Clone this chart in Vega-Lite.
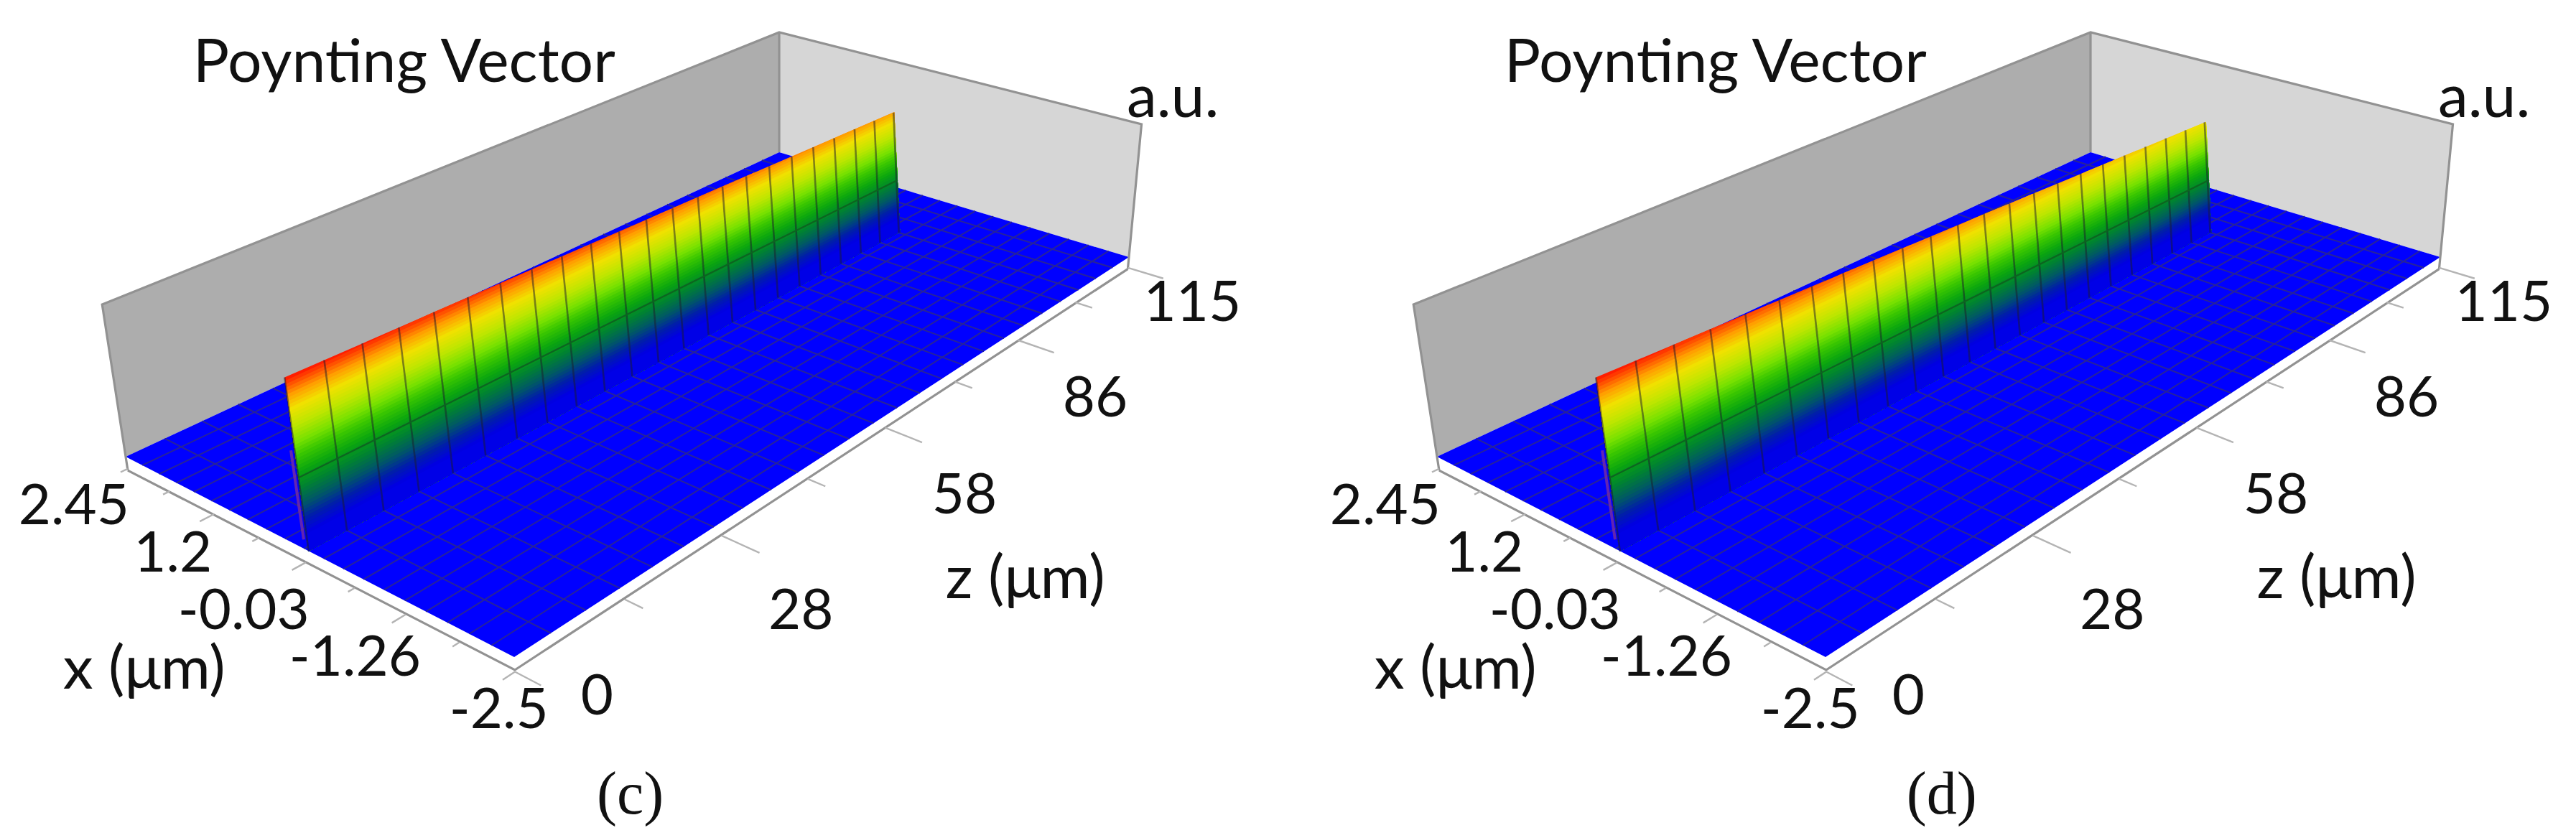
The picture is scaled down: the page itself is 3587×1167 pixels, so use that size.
{"$schema":"https://vega.github.io/schema/vega-lite/v6.json","autosize":{"type":"fit","contains":"padding"},"width":3587,"height":1167,"padding":0,"background":"white","config":{"view":{"stroke":null},"style":{"cell":{"stroke":null}}},
"data":{"values":[
{"k":"wallL","i":0,"x":2.45,"z":0,"s":0},{"k":"wallL","i":1,"x":2.45,"z":0,"s":1},{"k":"wallL","i":2,"x":2.45,"z":115,"s":1},{"k":"wallL","i":3,"x":2.45,"z":115,"s":0},
{"k":"wallR","i":0,"x":2.45,"z":115,"s":0},{"k":"wallR","i":1,"x":2.45,"z":115,"s":1},{"k":"wallR","i":2,"x":-2.5,"z":115,"s":1},{"k":"wallR","i":3,"x":-2.5,"z":115,"s":0},
{"k":"floor","i":0,"x":2.45,"z":0,"s":0},{"k":"floor","i":1,"x":-2.5,"z":0,"s":0},{"k":"floor","i":2,"x":-2.5,"z":115,"s":0},{"k":"floor","i":3,"x":2.45,"z":115,"s":0},
{"k":"grid","g":1,"i":0,"z":4.6,"x":2.45},{"k":"grid","g":1,"i":1,"z":4.6,"x":-2.5},{"k":"grid","g":2,"i":0,"z":9.2,"x":2.45},{"k":"grid","g":2,"i":1,"z":9.2,"x":-2.5},{"k":"grid","g":3,"i":0,"z":13.8,"x":2.45},{"k":"grid","g":3,"i":1,"z":13.8,"x":-2.5},{"k":"grid","g":4,"i":0,"z":18.4,"x":2.45},{"k":"grid","g":4,"i":1,"z":18.4,"x":-2.5},{"k":"grid","g":5,"i":0,"z":23,"x":2.45},{"k":"grid","g":5,"i":1,"z":23,"x":-2.5},{"k":"grid","g":6,"i":0,"z":27.6,"x":2.45},{"k":"grid","g":6,"i":1,"z":27.6,"x":-2.5},{"k":"grid","g":7,"i":0,"z":32.2,"x":2.45},{"k":"grid","g":7,"i":1,"z":32.2,"x":-2.5},{"k":"grid","g":8,"i":0,"z":36.8,"x":2.45},{"k":"grid","g":8,"i":1,"z":36.8,"x":-2.5},{"k":"grid","g":9,"i":0,"z":41.4,"x":2.45},{"k":"grid","g":9,"i":1,"z":41.4,"x":-2.5},{"k":"grid","g":10,"i":0,"z":46,"x":2.45},{"k":"grid","g":10,"i":1,"z":46,"x":-2.5},{"k":"grid","g":11,"i":0,"z":50.6,"x":2.45},{"k":"grid","g":11,"i":1,"z":50.6,"x":-2.5},{"k":"grid","g":12,"i":0,"z":55.2,"x":2.45},{"k":"grid","g":12,"i":1,"z":55.2,"x":-2.5},{"k":"grid","g":13,"i":0,"z":59.8,"x":2.45},{"k":"grid","g":13,"i":1,"z":59.8,"x":-2.5},{"k":"grid","g":14,"i":0,"z":64.4,"x":2.45},{"k":"grid","g":14,"i":1,"z":64.4,"x":-2.5},{"k":"grid","g":15,"i":0,"z":69,"x":2.45},{"k":"grid","g":15,"i":1,"z":69,"x":-2.5},{"k":"grid","g":16,"i":0,"z":73.6,"x":2.45},{"k":"grid","g":16,"i":1,"z":73.6,"x":-2.5},{"k":"grid","g":17,"i":0,"z":78.2,"x":2.45},{"k":"grid","g":17,"i":1,"z":78.2,"x":-2.5},{"k":"grid","g":18,"i":0,"z":82.8,"x":2.45},{"k":"grid","g":18,"i":1,"z":82.8,"x":-2.5},{"k":"grid","g":19,"i":0,"z":87.4,"x":2.45},{"k":"grid","g":19,"i":1,"z":87.4,"x":-2.5},{"k":"grid","g":20,"i":0,"z":92,"x":2.45},{"k":"grid","g":20,"i":1,"z":92,"x":-2.5},{"k":"grid","g":21,"i":0,"z":96.6,"x":2.45},{"k":"grid","g":21,"i":1,"z":96.6,"x":-2.5},{"k":"grid","g":22,"i":0,"z":101.2,"x":2.45},{"k":"grid","g":22,"i":1,"z":101.2,"x":-2.5},{"k":"grid","g":23,"i":0,"z":105.8,"x":2.45},{"k":"grid","g":23,"i":1,"z":105.8,"x":-2.5},{"k":"grid","g":24,"i":0,"z":110.4,"x":2.45},{"k":"grid","g":24,"i":1,"z":110.4,"x":-2.5},
{"k":"grid","g":31,"i":0,"x":2.2025,"z":0},{"k":"grid","g":31,"i":1,"x":2.2025,"z":115},{"k":"grid","g":32,"i":0,"x":1.955,"z":0},{"k":"grid","g":32,"i":1,"x":1.955,"z":115},{"k":"grid","g":33,"i":0,"x":1.7075,"z":0},{"k":"grid","g":33,"i":1,"x":1.7075,"z":115},{"k":"grid","g":34,"i":0,"x":1.46,"z":0},{"k":"grid","g":34,"i":1,"x":1.46,"z":115},{"k":"grid","g":35,"i":0,"x":1.2125,"z":0},{"k":"grid","g":35,"i":1,"x":1.2125,"z":115},{"k":"grid","g":36,"i":0,"x":0.965,"z":0},{"k":"grid","g":36,"i":1,"x":0.965,"z":115},{"k":"grid","g":37,"i":0,"x":0.7175,"z":0},{"k":"grid","g":37,"i":1,"x":0.7175,"z":115},{"k":"grid","g":38,"i":0,"x":0.47,"z":0},{"k":"grid","g":38,"i":1,"x":0.47,"z":115},{"k":"grid","g":39,"i":0,"x":0.2225,"z":0},{"k":"grid","g":39,"i":1,"x":0.2225,"z":115},{"k":"grid","g":40,"i":0,"x":-0.025,"z":0},{"k":"grid","g":40,"i":1,"x":-0.025,"z":115},{"k":"grid","g":41,"i":0,"x":-0.2725,"z":0},{"k":"grid","g":41,"i":1,"x":-0.2725,"z":115},{"k":"grid","g":42,"i":0,"x":-0.52,"z":0},{"k":"grid","g":42,"i":1,"x":-0.52,"z":115},{"k":"grid","g":43,"i":0,"x":-0.7675,"z":0},{"k":"grid","g":43,"i":1,"x":-0.7675,"z":115},{"k":"grid","g":44,"i":0,"x":-1.015,"z":0},{"k":"grid","g":44,"i":1,"x":-1.015,"z":115},{"k":"grid","g":45,"i":0,"x":-1.2625,"z":0},{"k":"grid","g":45,"i":1,"x":-1.2625,"z":115},{"k":"grid","g":46,"i":0,"x":-1.51,"z":0},{"k":"grid","g":46,"i":1,"x":-1.51,"z":115},{"k":"grid","g":47,"i":0,"x":-1.7575,"z":0},{"k":"grid","g":47,"i":1,"x":-1.7575,"z":115},{"k":"grid","g":48,"i":0,"x":-2.005,"z":0},{"k":"grid","g":48,"i":1,"x":-2.005,"z":115},{"k":"grid","g":49,"i":0,"x":-2.2525,"z":0},{"k":"grid","g":49,"i":1,"x":-2.2525,"z":115},
{"k":"band","panel":"c","level":1.02,"i":0,"z":0,"x":0.002,"s":1.02},{"k":"band","panel":"c","level":1.02,"i":1,"z":35.3,"x":-0.015,"s":0.98},{"k":"band","panel":"c","level":1.02,"i":2,"z":35.3,"x":-0.116,"s":0},{"k":"band","panel":"c","level":1.02,"i":3,"z":0,"x":-0.082,"s":0},
{"k":"band","panel":"c","level":1.00,"i":0,"z":0,"x":0,"s":1},{"k":"band","panel":"c","level":1.00,"i":1,"z":17.65,"x":-0.006,"s":1},{"k":"band","panel":"c","level":1.00,"i":2,"z":35.3,"x":-0.015,"s":0.98},{"k":"band","panel":"c","level":1.00,"i":3,"z":35.3,"x":-0.116,"s":0},{"k":"band","panel":"c","level":1.00,"i":4,"z":0,"x":-0.082,"s":0},
{"k":"band","panel":"c","level":0.98,"i":0,"z":0,"x":-0.002,"s":0.98},{"k":"band","panel":"c","level":0.98,"i":1,"z":35.3,"x":-0.015,"s":0.98},{"k":"band","panel":"c","level":0.98,"i":2,"z":70.6,"x":-0.033,"s":0.94},{"k":"band","panel":"c","level":0.98,"i":3,"z":70.6,"x":-0.151,"s":0},{"k":"band","panel":"c","level":0.98,"i":4,"z":0,"x":-0.082,"s":0},
{"k":"band","panel":"c","level":0.96,"i":0,"z":0,"x":-0.003,"s":0.96},{"k":"band","panel":"c","level":0.96,"i":1,"z":52.95,"x":-0.024,"s":0.96},{"k":"band","panel":"c","level":0.96,"i":2,"z":70.6,"x":-0.033,"s":0.94},{"k":"band","panel":"c","level":0.96,"i":3,"z":70.6,"x":-0.151,"s":0},{"k":"band","panel":"c","level":0.96,"i":4,"z":0,"x":-0.082,"s":0},
{"k":"band","panel":"c","level":0.94,"i":0,"z":0,"x":-0.005,"s":0.94},{"k":"band","panel":"c","level":0.94,"i":1,"z":70.6,"x":-0.033,"s":0.94},{"k":"band","panel":"c","level":0.94,"i":2,"z":101.5,"x":-0.051,"s":0.905},{"k":"band","panel":"c","level":0.94,"i":3,"z":101.5,"x":-0.181,"s":0},{"k":"band","panel":"c","level":0.94,"i":4,"z":0,"x":-0.082,"s":0},
{"k":"band","panel":"c","level":0.92,"i":0,"z":0,"x":-0.007,"s":0.92},{"k":"band","panel":"c","level":0.92,"i":1,"z":88.3,"x":-0.043,"s":0.92},{"k":"band","panel":"c","level":0.92,"i":2,"z":101.5,"x":-0.051,"s":0.905},{"k":"band","panel":"c","level":0.92,"i":3,"z":101.5,"x":-0.181,"s":0},{"k":"band","panel":"c","level":0.92,"i":4,"z":0,"x":-0.082,"s":0},
{"k":"band","panel":"c","level":0.90,"i":0,"z":0,"x":-0.008,"s":0.9},{"k":"band","panel":"c","level":0.90,"i":1,"z":101.5,"x":-0.051,"s":0.9},{"k":"band","panel":"c","level":0.90,"i":2,"z":101.5,"x":-0.181,"s":0},{"k":"band","panel":"c","level":0.90,"i":3,"z":0,"x":-0.082,"s":0},
{"k":"band","panel":"c","level":0.88,"i":0,"z":0,"x":-0.01,"s":0.88},{"k":"band","panel":"c","level":0.88,"i":1,"z":101.5,"x":-0.054,"s":0.88},{"k":"band","panel":"c","level":0.88,"i":2,"z":101.5,"x":-0.181,"s":0},{"k":"band","panel":"c","level":0.88,"i":3,"z":0,"x":-0.082,"s":0},
{"k":"band","panel":"c","level":0.86,"i":0,"z":0,"x":-0.012,"s":0.86},{"k":"band","panel":"c","level":0.86,"i":1,"z":101.5,"x":-0.057,"s":0.86},{"k":"band","panel":"c","level":0.86,"i":2,"z":101.5,"x":-0.181,"s":0},{"k":"band","panel":"c","level":0.86,"i":3,"z":0,"x":-0.082,"s":0},
{"k":"band","panel":"c","level":0.84,"i":0,"z":0,"x":-0.013,"s":0.84},{"k":"band","panel":"c","level":0.84,"i":1,"z":101.5,"x":-0.06,"s":0.84},{"k":"band","panel":"c","level":0.84,"i":2,"z":101.5,"x":-0.181,"s":0},{"k":"band","panel":"c","level":0.84,"i":3,"z":0,"x":-0.082,"s":0},
{"k":"band","panel":"d","level":1.02,"i":0,"z":0,"x":0.002,"s":1.02},{"k":"band","panel":"d","level":1.02,"i":1,"z":21.4,"x":-0.01,"s":0.98},{"k":"band","panel":"d","level":1.02,"i":2,"z":21.4,"x":-0.103,"s":0},{"k":"band","panel":"d","level":1.02,"i":3,"z":0,"x":-0.082,"s":0},
{"k":"band","panel":"d","level":1.00,"i":0,"z":0,"x":0,"s":1},{"k":"band","panel":"d","level":1.00,"i":1,"z":10.7,"x":-0.004,"s":1},{"k":"band","panel":"d","level":1.00,"i":2,"z":21.4,"x":-0.01,"s":0.98},{"k":"band","panel":"d","level":1.00,"i":3,"z":21.4,"x":-0.103,"s":0},{"k":"band","panel":"d","level":1.00,"i":4,"z":0,"x":-0.082,"s":0},
{"k":"band","panel":"d","level":0.98,"i":0,"z":0,"x":-0.002,"s":0.98},{"k":"band","panel":"d","level":0.98,"i":1,"z":21.4,"x":-0.01,"s":0.98},{"k":"band","panel":"d","level":0.98,"i":2,"z":42.7,"x":-0.022,"s":0.94},{"k":"band","panel":"d","level":0.98,"i":3,"z":42.7,"x":-0.124,"s":0},{"k":"band","panel":"d","level":0.98,"i":4,"z":0,"x":-0.082,"s":0},
{"k":"band","panel":"d","level":0.96,"i":0,"z":0,"x":-0.003,"s":0.96},{"k":"band","panel":"d","level":0.96,"i":1,"z":32.1,"x":-0.016,"s":0.96},{"k":"band","panel":"d","level":0.96,"i":2,"z":42.7,"x":-0.022,"s":0.94},{"k":"band","panel":"d","level":0.96,"i":3,"z":42.7,"x":-0.124,"s":0},{"k":"band","panel":"d","level":0.96,"i":4,"z":0,"x":-0.082,"s":0},
{"k":"band","panel":"d","level":0.94,"i":0,"z":0,"x":-0.005,"s":0.94},{"k":"band","panel":"d","level":0.94,"i":1,"z":42.7,"x":-0.022,"s":0.94},{"k":"band","panel":"d","level":0.94,"i":2,"z":64.1,"x":-0.035,"s":0.9},{"k":"band","panel":"d","level":0.94,"i":3,"z":64.1,"x":-0.145,"s":0},{"k":"band","panel":"d","level":0.94,"i":4,"z":0,"x":-0.082,"s":0},
{"k":"band","panel":"d","level":0.92,"i":0,"z":0,"x":-0.007,"s":0.92},{"k":"band","panel":"d","level":0.92,"i":1,"z":53.5,"x":-0.029,"s":0.92},{"k":"band","panel":"d","level":0.92,"i":2,"z":64.1,"x":-0.035,"s":0.9},{"k":"band","panel":"d","level":0.92,"i":3,"z":64.1,"x":-0.145,"s":0},{"k":"band","panel":"d","level":0.92,"i":4,"z":0,"x":-0.082,"s":0},
{"k":"band","panel":"d","level":0.90,"i":0,"z":0,"x":-0.008,"s":0.9},{"k":"band","panel":"d","level":0.90,"i":1,"z":64.1,"x":-0.035,"s":0.9},{"k":"band","panel":"d","level":0.90,"i":2,"z":85.5,"x":-0.05,"s":0.86},{"k":"band","panel":"d","level":0.90,"i":3,"z":85.5,"x":-0.165,"s":0},{"k":"band","panel":"d","level":0.90,"i":4,"z":0,"x":-0.082,"s":0},
{"k":"band","panel":"d","level":0.88,"i":0,"z":0,"x":-0.01,"s":0.88},{"k":"band","panel":"d","level":0.88,"i":1,"z":74.9,"x":-0.043,"s":0.88},{"k":"band","panel":"d","level":0.88,"i":2,"z":85.5,"x":-0.05,"s":0.86},{"k":"band","panel":"d","level":0.88,"i":3,"z":85.5,"x":-0.165,"s":0},{"k":"band","panel":"d","level":0.88,"i":4,"z":0,"x":-0.082,"s":0},
{"k":"band","panel":"d","level":0.86,"i":0,"z":0,"x":-0.012,"s":0.86},{"k":"band","panel":"d","level":0.86,"i":1,"z":85.5,"x":-0.05,"s":0.86},{"k":"band","panel":"d","level":0.86,"i":2,"z":101.5,"x":-0.061,"s":0.83},{"k":"band","panel":"d","level":0.86,"i":3,"z":101.5,"x":-0.181,"s":0},{"k":"band","panel":"d","level":0.86,"i":4,"z":0,"x":-0.082,"s":0},
{"k":"band","panel":"d","level":0.84,"i":0,"z":0,"x":-0.013,"s":0.84},{"k":"band","panel":"d","level":0.84,"i":1,"z":96.3,"x":-0.058,"s":0.84},{"k":"band","panel":"d","level":0.84,"i":2,"z":101.5,"x":-0.061,"s":0.83},{"k":"band","panel":"d","level":0.84,"i":3,"z":101.5,"x":-0.181,"s":0},{"k":"band","panel":"d","level":0.84,"i":4,"z":0,"x":-0.082,"s":0},
{"k":"band","level":0.82,"i":0,"z":0,"x":-0.015,"s":0.82},{"k":"band","level":0.82,"i":1,"z":101.5,"x":-0.063,"s":0.82},{"k":"band","level":0.82,"i":2,"z":101.5,"x":-0.181,"s":0},{"k":"band","level":0.82,"i":3,"z":0,"x":-0.082,"s":0},
{"k":"band","level":0.80,"i":0,"z":0,"x":-0.016,"s":0.8},{"k":"band","level":0.80,"i":1,"z":101.5,"x":-0.066,"s":0.8},{"k":"band","level":0.80,"i":2,"z":101.5,"x":-0.181,"s":0},{"k":"band","level":0.80,"i":3,"z":0,"x":-0.082,"s":0},
{"k":"band","level":0.78,"i":0,"z":0,"x":-0.018,"s":0.78},{"k":"band","level":0.78,"i":1,"z":101.5,"x":-0.069,"s":0.78},{"k":"band","level":0.78,"i":2,"z":101.5,"x":-0.181,"s":0},{"k":"band","level":0.78,"i":3,"z":0,"x":-0.082,"s":0},
{"k":"band","level":0.76,"i":0,"z":0,"x":-0.02,"s":0.76},{"k":"band","level":0.76,"i":1,"z":101.5,"x":-0.072,"s":0.76},{"k":"band","level":0.76,"i":2,"z":101.5,"x":-0.181,"s":0},{"k":"band","level":0.76,"i":3,"z":0,"x":-0.082,"s":0},
{"k":"band","level":0.74,"i":0,"z":0,"x":-0.021,"s":0.74},{"k":"band","level":0.74,"i":1,"z":101.5,"x":-0.074,"s":0.74},{"k":"band","level":0.74,"i":2,"z":101.5,"x":-0.181,"s":0},{"k":"band","level":0.74,"i":3,"z":0,"x":-0.082,"s":0},
{"k":"band","level":0.72,"i":0,"z":0,"x":-0.023,"s":0.72},{"k":"band","level":0.72,"i":1,"z":101.5,"x":-0.077,"s":0.72},{"k":"band","level":0.72,"i":2,"z":101.5,"x":-0.181,"s":0},{"k":"band","level":0.72,"i":3,"z":0,"x":-0.082,"s":0},
{"k":"band","level":0.70,"i":0,"z":0,"x":-0.025,"s":0.7},{"k":"band","level":0.70,"i":1,"z":101.5,"x":-0.08,"s":0.7},{"k":"band","level":0.70,"i":2,"z":101.5,"x":-0.181,"s":0},{"k":"band","level":0.70,"i":3,"z":0,"x":-0.082,"s":0},
{"k":"band","level":0.68,"i":0,"z":0,"x":-0.026,"s":0.68},{"k":"band","level":0.68,"i":1,"z":101.5,"x":-0.083,"s":0.68},{"k":"band","level":0.68,"i":2,"z":101.5,"x":-0.181,"s":0},{"k":"band","level":0.68,"i":3,"z":0,"x":-0.082,"s":0},
{"k":"band","level":0.66,"i":0,"z":0,"x":-0.028,"s":0.66},{"k":"band","level":0.66,"i":1,"z":101.5,"x":-0.086,"s":0.66},{"k":"band","level":0.66,"i":2,"z":101.5,"x":-0.181,"s":0},{"k":"band","level":0.66,"i":3,"z":0,"x":-0.082,"s":0},
{"k":"band","level":0.64,"i":0,"z":0,"x":-0.03,"s":0.64},{"k":"band","level":0.64,"i":1,"z":101.5,"x":-0.089,"s":0.64},{"k":"band","level":0.64,"i":2,"z":101.5,"x":-0.181,"s":0},{"k":"band","level":0.64,"i":3,"z":0,"x":-0.082,"s":0},
{"k":"band","level":0.62,"i":0,"z":0,"x":-0.031,"s":0.62},{"k":"band","level":0.62,"i":1,"z":101.5,"x":-0.092,"s":0.62},{"k":"band","level":0.62,"i":2,"z":101.5,"x":-0.181,"s":0},{"k":"band","level":0.62,"i":3,"z":0,"x":-0.082,"s":0},
{"k":"band","level":0.60,"i":0,"z":0,"x":-0.033,"s":0.6},{"k":"band","level":0.60,"i":1,"z":101.5,"x":-0.095,"s":0.6},{"k":"band","level":0.60,"i":2,"z":101.5,"x":-0.181,"s":0},{"k":"band","level":0.60,"i":3,"z":0,"x":-0.082,"s":0},
{"k":"band","level":0.58,"i":0,"z":0,"x":-0.034,"s":0.58},{"k":"band","level":0.58,"i":1,"z":101.5,"x":-0.098,"s":0.58},{"k":"band","level":0.58,"i":2,"z":101.5,"x":-0.181,"s":0},{"k":"band","level":0.58,"i":3,"z":0,"x":-0.082,"s":0},
{"k":"band","level":0.56,"i":0,"z":0,"x":-0.036,"s":0.56},{"k":"band","level":0.56,"i":1,"z":101.5,"x":-0.1,"s":0.56},{"k":"band","level":0.56,"i":2,"z":101.5,"x":-0.181,"s":0},{"k":"band","level":0.56,"i":3,"z":0,"x":-0.082,"s":0},
{"k":"band","level":0.54,"i":0,"z":0,"x":-0.038,"s":0.54},{"k":"band","level":0.54,"i":1,"z":101.5,"x":-0.103,"s":0.54},{"k":"band","level":0.54,"i":2,"z":101.5,"x":-0.181,"s":0},{"k":"band","level":0.54,"i":3,"z":0,"x":-0.082,"s":0},
{"k":"band","level":0.52,"i":0,"z":0,"x":-0.039,"s":0.52},{"k":"band","level":0.52,"i":1,"z":101.5,"x":-0.106,"s":0.52},{"k":"band","level":0.52,"i":2,"z":101.5,"x":-0.181,"s":0},{"k":"band","level":0.52,"i":3,"z":0,"x":-0.082,"s":0},
{"k":"band","level":0.50,"i":0,"z":0,"x":-0.041,"s":0.5},{"k":"band","level":0.50,"i":1,"z":101.5,"x":-0.109,"s":0.5},{"k":"band","level":0.50,"i":2,"z":101.5,"x":-0.181,"s":0},{"k":"band","level":0.50,"i":3,"z":0,"x":-0.082,"s":0},
{"k":"band","level":0.48,"i":0,"z":0,"x":-0.043,"s":0.48},{"k":"band","level":0.48,"i":1,"z":101.5,"x":-0.112,"s":0.48},{"k":"band","level":0.48,"i":2,"z":101.5,"x":-0.181,"s":0},{"k":"band","level":0.48,"i":3,"z":0,"x":-0.082,"s":0},
{"k":"band","level":0.46,"i":0,"z":0,"x":-0.044,"s":0.46},{"k":"band","level":0.46,"i":1,"z":101.5,"x":-0.115,"s":0.46},{"k":"band","level":0.46,"i":2,"z":101.5,"x":-0.181,"s":0},{"k":"band","level":0.46,"i":3,"z":0,"x":-0.082,"s":0},
{"k":"band","level":0.44,"i":0,"z":0,"x":-0.046,"s":0.44},{"k":"band","level":0.44,"i":1,"z":101.5,"x":-0.118,"s":0.44},{"k":"band","level":0.44,"i":2,"z":101.5,"x":-0.181,"s":0},{"k":"band","level":0.44,"i":3,"z":0,"x":-0.082,"s":0},
{"k":"band","level":0.42,"i":0,"z":0,"x":-0.048,"s":0.42},{"k":"band","level":0.42,"i":1,"z":101.5,"x":-0.121,"s":0.42},{"k":"band","level":0.42,"i":2,"z":101.5,"x":-0.181,"s":0},{"k":"band","level":0.42,"i":3,"z":0,"x":-0.082,"s":0},
{"k":"band","level":0.40,"i":0,"z":0,"x":-0.049,"s":0.4},{"k":"band","level":0.40,"i":1,"z":101.5,"x":-0.123,"s":0.4},{"k":"band","level":0.40,"i":2,"z":101.5,"x":-0.181,"s":0},{"k":"band","level":0.40,"i":3,"z":0,"x":-0.082,"s":0},
{"k":"band","level":0.38,"i":0,"z":0,"x":-0.051,"s":0.38},{"k":"band","level":0.38,"i":1,"z":101.5,"x":-0.126,"s":0.38},{"k":"band","level":0.38,"i":2,"z":101.5,"x":-0.181,"s":0},{"k":"band","level":0.38,"i":3,"z":0,"x":-0.082,"s":0},
{"k":"band","level":0.36,"i":0,"z":0,"x":-0.052,"s":0.36},{"k":"band","level":0.36,"i":1,"z":101.5,"x":-0.129,"s":0.36},{"k":"band","level":0.36,"i":2,"z":101.5,"x":-0.181,"s":0},{"k":"band","level":0.36,"i":3,"z":0,"x":-0.082,"s":0},
{"k":"band","level":0.34,"i":0,"z":0,"x":-0.054,"s":0.34},{"k":"band","level":0.34,"i":1,"z":101.5,"x":-0.132,"s":0.34},{"k":"band","level":0.34,"i":2,"z":101.5,"x":-0.181,"s":0},{"k":"band","level":0.34,"i":3,"z":0,"x":-0.082,"s":0},
{"k":"band","level":0.32,"i":0,"z":0,"x":-0.056,"s":0.32},{"k":"band","level":0.32,"i":1,"z":101.5,"x":-0.135,"s":0.32},{"k":"band","level":0.32,"i":2,"z":101.5,"x":-0.181,"s":0},{"k":"band","level":0.32,"i":3,"z":0,"x":-0.082,"s":0},
{"k":"band","level":0.30,"i":0,"z":0,"x":-0.057,"s":0.3},{"k":"band","level":0.30,"i":1,"z":101.5,"x":-0.138,"s":0.3},{"k":"band","level":0.30,"i":2,"z":101.5,"x":-0.181,"s":0},{"k":"band","level":0.30,"i":3,"z":0,"x":-0.082,"s":0},
{"k":"band","level":0.28,"i":0,"z":0,"x":-0.059,"s":0.28},{"k":"band","level":0.28,"i":1,"z":101.5,"x":-0.141,"s":0.28},{"k":"band","level":0.28,"i":2,"z":101.5,"x":-0.181,"s":0},{"k":"band","level":0.28,"i":3,"z":0,"x":-0.082,"s":0},
{"k":"band","level":0.26,"i":0,"z":0,"x":-0.061,"s":0.26},{"k":"band","level":0.26,"i":1,"z":101.5,"x":-0.144,"s":0.26},{"k":"band","level":0.26,"i":2,"z":101.5,"x":-0.181,"s":0},{"k":"band","level":0.26,"i":3,"z":0,"x":-0.082,"s":0},
{"k":"band","level":0.24,"i":0,"z":0,"x":-0.062,"s":0.24},{"k":"band","level":0.24,"i":1,"z":101.5,"x":-0.146,"s":0.24},{"k":"band","level":0.24,"i":2,"z":101.5,"x":-0.181,"s":0},{"k":"band","level":0.24,"i":3,"z":0,"x":-0.082,"s":0},
{"k":"band","level":0.22,"i":0,"z":0,"x":-0.064,"s":0.22},{"k":"band","level":0.22,"i":1,"z":101.5,"x":-0.149,"s":0.22},{"k":"band","level":0.22,"i":2,"z":101.5,"x":-0.181,"s":0},{"k":"band","level":0.22,"i":3,"z":0,"x":-0.082,"s":0},
{"k":"band","level":0.20,"i":0,"z":0,"x":-0.066,"s":0.2},{"k":"band","level":0.20,"i":1,"z":101.5,"x":-0.152,"s":0.2},{"k":"band","level":0.20,"i":2,"z":101.5,"x":-0.181,"s":0},{"k":"band","level":0.20,"i":3,"z":0,"x":-0.082,"s":0},
{"k":"band","level":0.18,"i":0,"z":0,"x":-0.067,"s":0.18},{"k":"band","level":0.18,"i":1,"z":101.5,"x":-0.155,"s":0.18},{"k":"band","level":0.18,"i":2,"z":101.5,"x":-0.181,"s":0},{"k":"band","level":0.18,"i":3,"z":0,"x":-0.082,"s":0},
{"k":"band","level":0.16,"i":0,"z":0,"x":-0.069,"s":0.16},{"k":"band","level":0.16,"i":1,"z":101.5,"x":-0.158,"s":0.16},{"k":"band","level":0.16,"i":2,"z":101.5,"x":-0.181,"s":0},{"k":"band","level":0.16,"i":3,"z":0,"x":-0.082,"s":0},
{"k":"band","level":0.14,"i":0,"z":0,"x":-0.071,"s":0.14},{"k":"band","level":0.14,"i":1,"z":101.5,"x":-0.161,"s":0.14},{"k":"band","level":0.14,"i":2,"z":101.5,"x":-0.181,"s":0},{"k":"band","level":0.14,"i":3,"z":0,"x":-0.082,"s":0},
{"k":"band","level":0.12,"i":0,"z":0,"x":-0.072,"s":0.12},{"k":"band","level":0.12,"i":1,"z":101.5,"x":-0.164,"s":0.12},{"k":"band","level":0.12,"i":2,"z":101.5,"x":-0.181,"s":0},{"k":"band","level":0.12,"i":3,"z":0,"x":-0.082,"s":0},
{"k":"band","level":0.10,"i":0,"z":0,"x":-0.074,"s":0.1},{"k":"band","level":0.10,"i":1,"z":101.5,"x":-0.167,"s":0.1},{"k":"band","level":0.10,"i":2,"z":101.5,"x":-0.181,"s":0},{"k":"band","level":0.10,"i":3,"z":0,"x":-0.082,"s":0},
{"k":"rib","g":0,"panel":"c","i":0,"z":0,"x":0.002,"s":1.02},{"k":"rib","g":0,"panel":"d","i":0,"z":0,"x":0.002,"s":1.02},{"k":"rib","g":0,"i":1,"z":0,"x":-0.082,"s":0},
{"k":"rib","g":1,"panel":"c","i":0,"z":4.6,"x":0,"s":1.015},{"k":"rib","g":1,"panel":"d","i":0,"z":4.6,"x":0,"s":1.011},{"k":"rib","g":1,"i":1,"z":4.6,"x":-0.087,"s":0},
{"k":"rib","g":2,"panel":"c","i":0,"z":9.2,"x":-0.003,"s":1.01},{"k":"rib","g":2,"panel":"d","i":0,"z":9.2,"x":-0.003,"s":1.003},{"k":"rib","g":2,"i":1,"z":9.2,"x":-0.091,"s":0},
{"k":"rib","g":3,"panel":"c","i":0,"z":13.8,"x":-0.005,"s":1.004},{"k":"rib","g":3,"panel":"d","i":0,"z":13.8,"x":-0.005,"s":0.994},{"k":"rib","g":3,"i":1,"z":13.8,"x":-0.096,"s":0},
{"k":"rib","g":4,"panel":"c","i":0,"z":18.4,"x":-0.007,"s":0.999},{"k":"rib","g":4,"panel":"d","i":0,"z":18.4,"x":-0.007,"s":0.986},{"k":"rib","g":4,"i":1,"z":18.4,"x":-0.1,"s":0},
{"k":"rib","g":5,"panel":"c","i":0,"z":23,"x":-0.01,"s":0.994},{"k":"rib","g":5,"panel":"d","i":0,"z":23,"x":-0.01,"s":0.977},{"k":"rib","g":5,"i":1,"z":23,"x":-0.104,"s":0},
{"k":"rib","g":6,"panel":"c","i":0,"z":27.6,"x":-0.012,"s":0.989},{"k":"rib","g":6,"panel":"d","i":0,"z":27.6,"x":-0.012,"s":0.968},{"k":"rib","g":6,"i":1,"z":27.6,"x":-0.109,"s":0},
{"k":"rib","g":7,"panel":"c","i":0,"z":32.2,"x":-0.015,"s":0.984},{"k":"rib","g":7,"panel":"d","i":0,"z":32.2,"x":-0.015,"s":0.96},{"k":"rib","g":7,"i":1,"z":32.2,"x":-0.113,"s":0},
{"k":"rib","g":8,"panel":"c","i":0,"z":36.8,"x":-0.017,"s":0.978},{"k":"rib","g":8,"panel":"d","i":0,"z":36.8,"x":-0.017,"s":0.951},{"k":"rib","g":8,"i":1,"z":36.8,"x":-0.118,"s":0},
{"k":"rib","g":9,"panel":"c","i":0,"z":41.4,"x":-0.019,"s":0.973},{"k":"rib","g":9,"panel":"d","i":0,"z":41.4,"x":-0.019,"s":0.943},{"k":"rib","g":9,"i":1,"z":41.4,"x":-0.122,"s":0},
{"k":"rib","g":10,"panel":"c","i":0,"z":46,"x":-0.022,"s":0.968},{"k":"rib","g":10,"panel":"d","i":0,"z":46,"x":-0.022,"s":0.934},{"k":"rib","g":10,"i":1,"z":46,"x":-0.127,"s":0},
{"k":"rib","g":11,"panel":"c","i":0,"z":50.6,"x":-0.025,"s":0.963},{"k":"rib","g":11,"panel":"d","i":0,"z":50.6,"x":-0.025,"s":0.925},{"k":"rib","g":11,"i":1,"z":50.6,"x":-0.131,"s":0},
{"k":"rib","g":12,"panel":"c","i":0,"z":55.2,"x":-0.027,"s":0.957},{"k":"rib","g":12,"panel":"d","i":0,"z":55.2,"x":-0.027,"s":0.917},{"k":"rib","g":12,"i":1,"z":55.2,"x":-0.136,"s":0},
{"k":"rib","g":13,"panel":"c","i":0,"z":59.8,"x":-0.03,"s":0.952},{"k":"rib","g":13,"panel":"d","i":0,"z":59.8,"x":-0.03,"s":0.908},{"k":"rib","g":13,"i":1,"z":59.8,"x":-0.14,"s":0},
{"k":"rib","g":14,"panel":"c","i":0,"z":64.4,"x":-0.033,"s":0.947},{"k":"rib","g":14,"panel":"d","i":0,"z":64.4,"x":-0.033,"s":0.9},{"k":"rib","g":14,"i":1,"z":64.4,"x":-0.145,"s":0},
{"k":"rib","g":15,"panel":"c","i":0,"z":69,"x":-0.035,"s":0.942},{"k":"rib","g":15,"panel":"d","i":0,"z":69,"x":-0.035,"s":0.891},{"k":"rib","g":15,"i":1,"z":69,"x":-0.149,"s":0},
{"k":"rib","g":16,"panel":"c","i":0,"z":73.6,"x":-0.038,"s":0.937},{"k":"rib","g":16,"panel":"d","i":0,"z":73.6,"x":-0.038,"s":0.882},{"k":"rib","g":16,"i":1,"z":73.6,"x":-0.154,"s":0},
{"k":"rib","g":17,"panel":"c","i":0,"z":78.2,"x":-0.041,"s":0.931},{"k":"rib","g":17,"panel":"d","i":0,"z":78.2,"x":-0.041,"s":0.874},{"k":"rib","g":17,"i":1,"z":78.2,"x":-0.158,"s":0},
{"k":"rib","g":18,"panel":"c","i":0,"z":82.8,"x":-0.044,"s":0.926},{"k":"rib","g":18,"panel":"d","i":0,"z":82.8,"x":-0.044,"s":0.865},{"k":"rib","g":18,"i":1,"z":82.8,"x":-0.163,"s":0},
{"k":"rib","g":19,"panel":"c","i":0,"z":87.4,"x":-0.047,"s":0.921},{"k":"rib","g":19,"panel":"d","i":0,"z":87.4,"x":-0.047,"s":0.857},{"k":"rib","g":19,"i":1,"z":87.4,"x":-0.167,"s":0},
{"k":"rib","g":20,"panel":"c","i":0,"z":92,"x":-0.05,"s":0.916},{"k":"rib","g":20,"panel":"d","i":0,"z":92,"x":-0.05,"s":0.848},{"k":"rib","g":20,"i":1,"z":92,"x":-0.172,"s":0},
{"k":"rib","g":21,"panel":"c","i":0,"z":96.6,"x":-0.053,"s":0.911},{"k":"rib","g":21,"panel":"d","i":0,"z":96.6,"x":-0.053,"s":0.839},{"k":"rib","g":21,"i":1,"z":96.6,"x":-0.176,"s":0},
{"k":"rib","g":22,"panel":"c","i":0,"z":101.2,"x":-0.056,"s":0.905},{"k":"rib","g":22,"panel":"d","i":0,"z":101.2,"x":-0.056,"s":0.831},{"k":"rib","g":22,"i":1,"z":101.2,"x":-0.181,"s":0},
{"k":"mid","i":0,"z":0,"x":-0.047,"s":0.43},{"k":"mid","i":1,"z":101.5,"x":-0.125,"s":0.39},
{"k":"edge","i":0,"z":-0.4,"x":-0.03,"s":0.6},{"k":"edge","i":1,"z":-0.4,"x":-0.08,"s":0.08},
{"k":"frame","g":1,"i":0,"x":2.45,"z":0,"s":-0.09},{"k":"frame","g":1,"i":1,"x":2.45,"z":0,"s":1},{"k":"frame","g":1,"i":2,"x":2.45,"z":115,"s":1},{"k":"frame","g":1,"i":3,"x":-2.5,"z":115,"s":1},{"k":"frame","g":1,"i":4,"x":-2.5,"z":115,"s":-0.09},
{"k":"frame","g":2,"i":0,"x":2.45,"z":115,"s":1},{"k":"frame","g":2,"i":1,"x":2.45,"z":115,"s":0},
{"k":"frame","g":3,"i":0,"x":2.45,"z":0,"s":-0.09},{"k":"frame","g":3,"i":1,"x":-2.5,"z":0,"s":-0.07},{"k":"frame","g":3,"i":2,"x":-2.5,"z":115,"s":-0.09},
{"k":"tick","g":1,"i":0,"x":2.45,"z":0,"s":-0.08},{"k":"tick","g":1,"i":1,"x":2.45,"z":-0.8,"s":-0.08},
{"k":"tick","g":2,"i":0,"x":1.825,"z":0,"s":-0.08},{"k":"tick","g":2,"i":1,"x":1.825,"z":-0.8,"s":-0.08},
{"k":"tick","g":3,"i":0,"x":1.2,"z":0,"s":-0.08},{"k":"tick","g":3,"i":1,"x":1.2,"z":-1.65,"s":-0.08},
{"k":"tick","g":4,"i":0,"x":0.585,"z":0,"s":-0.08},{"k":"tick","g":4,"i":1,"x":0.585,"z":-0.8,"s":-0.08},
{"k":"tick","g":5,"i":0,"x":-0.03,"z":0,"s":-0.08},{"k":"tick","g":5,"i":1,"x":-0.03,"z":-1.65,"s":-0.08},
{"k":"tick","g":6,"i":0,"x":-0.645,"z":0,"s":-0.08},{"k":"tick","g":6,"i":1,"x":-0.645,"z":-0.8,"s":-0.08},
{"k":"tick","g":7,"i":0,"x":-1.26,"z":0,"s":-0.08},{"k":"tick","g":7,"i":1,"x":-1.26,"z":-1.65,"s":-0.08},
{"k":"tick","g":8,"i":0,"x":-1.88,"z":0,"s":-0.08},{"k":"tick","g":8,"i":1,"x":-1.88,"z":-0.8,"s":-0.08},
{"k":"tick","g":9,"i":0,"x":-2.5,"z":0,"s":-0.08},{"k":"tick","g":9,"i":1,"x":-2.5,"z":-1.5,"s":-0.08},
{"k":"tick","g":11,"i":0,"x":-2.5,"z":0,"s":-0.08},{"k":"tick","g":11,"i":1,"x":-2.78,"z":0,"s":-0.08},
{"k":"tick","g":12,"i":0,"x":-2.5,"z":14.4,"s":-0.08},{"k":"tick","g":12,"i":1,"x":-2.7,"z":14.4,"s":-0.08},
{"k":"tick","g":13,"i":0,"x":-2.5,"z":28.75,"s":-0.08},{"k":"tick","g":13,"i":1,"x":-2.92,"z":28.75,"s":-0.08},
{"k":"tick","g":14,"i":0,"x":-2.5,"z":43.1,"s":-0.08},{"k":"tick","g":14,"i":1,"x":-2.7,"z":43.1,"s":-0.08},
{"k":"tick","g":15,"i":0,"x":-2.5,"z":57.5,"s":-0.08},{"k":"tick","g":15,"i":1,"x":-2.92,"z":57.5,"s":-0.08},
{"k":"tick","g":16,"i":0,"x":-2.5,"z":71.9,"s":-0.08},{"k":"tick","g":16,"i":1,"x":-2.7,"z":71.9,"s":-0.08},
{"k":"tick","g":17,"i":0,"x":-2.5,"z":86.25,"s":-0.08},{"k":"tick","g":17,"i":1,"x":-2.92,"z":86.25,"s":-0.08},
{"k":"tick","g":18,"i":0,"x":-2.5,"z":100.6,"s":-0.08},{"k":"tick","g":18,"i":1,"x":-2.7,"z":100.6,"s":-0.08},
{"k":"tick","g":19,"i":0,"x":-2.5,"z":115,"s":-0.08},{"k":"tick","g":19,"i":1,"x":-2.92,"z":115,"s":-0.08},
{"k":"label","label":"115","x":-3.564,"z":106.95},{"k":"label","label":"86","x":-3.834,"z":76.3},{"k":"label","label":"58","x":-3.865,"z":48.7},{"k":"label","label":"28","x":-3.846,"z":21.5},{"k":"label","label":"0","x":-3.357,"z":0.15},
{"k":"label","label":"2.45","x":2.059,"z":-8.7},{"k":"label","label":"1.2","x":0.765,"z":-8.06},{"k":"label","label":"-0.03","x":-0.372,"z":-10},{"k":"label","label":"-1.26","x":-1.556,"z":-8.7},{"k":"label","label":"-2.5","x":-2.898,"z":-6.3},
{"k":"title","label":"x (μm)","x":-0.402,"z":-20.5},{"k":"title","label":"z (μm)","x":-4.957,"z":39.6},{"k":"title","label":"Poynting Vector","x":9.18,"z":105.3},{"k":"title","label":"a.u.","x":-0.518,"z":180.7},
{"k":"caption","panel":"c","label":"(c)","x":-4.311,"z":-7.64},{"k":"caption","panel":"d","label":"(d)","x":-4.311,"z":-7.64}
]},
"transform":[
{"fold":["c","d"],"as":["key","unused"]},
{"filter":"!datum.panel || datum.panel == datum.key"},
{"calculate":"(2.45-datum.x)/4.95","as":"tx"},
{"calculate":"0.85*datum.tx/(1-0.15*datum.tx)","as":"u"},
{"calculate":"datum.z/115","as":"tz"},
{"calculate":"1.525*datum.tz/(1+0.525*datum.tz)","as":"v"},
{"calculate":"datum.s||0","as":"S"},
{"calculate":"175+541*datum.u+910*datum.v-54*datum.u*datum.v","as":"fx"},
{"calculate":"636+279*datum.u-424*datum.v-133*datum.u*datum.v","as":"fy"},
{"calculate":"212+45*datum.u-45*datum.v-27*datum.u*datum.v","as":"h"},
{"calculate":"datum.fx+0.036*datum.S*(datum.fx-1085)+(datum.key=='d'?1826:0)","as":"H"},
{"calculate":"datum.fy-datum.S*datum.h","as":"V"}
],
"encoding":{
"x":{"field":"H","type":"quantitative","scale":{"domain":[0,3587],"nice":false,"zero":false},"axis":null},
"y":{"field":"V","type":"quantitative","scale":{"domain":[1167,0],"nice":false,"zero":false},"axis":null}
},
"layer":[
{"transform":[{"filter":"datum.k=='wallL'"}],"mark":{"type":"line","fill":"#adadad","strokeWidth":0},"encoding":{"order":{"field":"i","type":"quantitative"},"detail":{"field":"key"}}},
{"transform":[{"filter":"datum.k=='wallR'"}],"mark":{"type":"line","fill":"#d6d6d6","strokeWidth":0},"encoding":{"order":{"field":"i","type":"quantitative"},"detail":{"field":"key"}}},
{"transform":[{"filter":"datum.k=='floor'"}],"mark":{"type":"line","fill":"#0000ff","strokeWidth":0},"encoding":{"order":{"field":"i","type":"quantitative"},"detail":{"field":"key"}}},
{"transform":[{"filter":"datum.k=='grid'"}],"mark":{"type":"line","stroke":"#27239a","strokeWidth":2},"encoding":{"order":{"field":"i","type":"quantitative"},"detail":[{"field":"key"},{"field":"g"}]}},
{"transform":[{"filter":"datum.k=='band'"}],"mark":{"type":"line","strokeWidth":0},"encoding":{"order":{"field":"i","type":"quantitative"},"detail":{"field":"key"},"fill":{"field":"level","type":"quantitative","legend":null,"scale":{"domain":[0.02,0.12,0.2,0.29,0.38,0.47,0.57,0.64,0.74,0.84,0.92,1.02],"range":["#0000ff","#0000e1","#001eaa","#005a64","#008232","#0aa50f","#3cc800","#78e100","#bee600","#f0e100","#ffa000","#ff1e00"],"interpolate":"rgb"}}}},
{"transform":[{"filter":"datum.k=='edge'"}],"mark":{"type":"line","stroke":"#7b2d9f","strokeWidth":4,"opacity":0.8},"encoding":{"order":{"field":"i","type":"quantitative"},"detail":{"field":"key"}}},
{"transform":[{"filter":"datum.k=='rib'"}],"mark":{"type":"line","stroke":"#1c1c2c","strokeWidth":2.6,"opacity":0.5},"encoding":{"order":{"field":"i","type":"quantitative"},"detail":[{"field":"key"},{"field":"g"}]}},
{"transform":[{"filter":"datum.k=='mid'"}],"mark":{"type":"line","stroke":"#0d6420","strokeWidth":2.2},"encoding":{"order":{"field":"i","type":"quantitative"},"detail":{"field":"key"}}},
{"transform":[{"filter":"datum.k=='frame'"}],"mark":{"type":"line","stroke":"#929292","strokeWidth":3.2},"encoding":{"order":{"field":"i","type":"quantitative"},"detail":[{"field":"key"},{"field":"g"}]}},
{"transform":[{"filter":"datum.k=='tick'"}],"mark":{"type":"line","stroke":"#b4b4b4","strokeWidth":2.4},"encoding":{"order":{"field":"i","type":"quantitative"},"detail":[{"field":"key"},{"field":"g"}]}},
{"transform":[{"filter":"datum.k=='label'"}],"mark":{"type":"text","font":"Lato","fontSize":78,"align":"center","baseline":"middle","fill":"#111111"},"encoding":{"text":{"field":"label"}}},
{"transform":[{"filter":"datum.k=='title'"}],"mark":{"type":"text","font":"Lato","fontSize":84,"align":"center","baseline":"middle","fill":"#111111"},"encoding":{"text":{"field":"label"}}},
{"transform":[{"filter":"datum.k=='caption'"}],"mark":{"type":"text","font":"Liberation Serif","fontSize":84,"align":"center","baseline":"middle","fill":"#111111"},"encoding":{"text":{"field":"label"}}}
]}
